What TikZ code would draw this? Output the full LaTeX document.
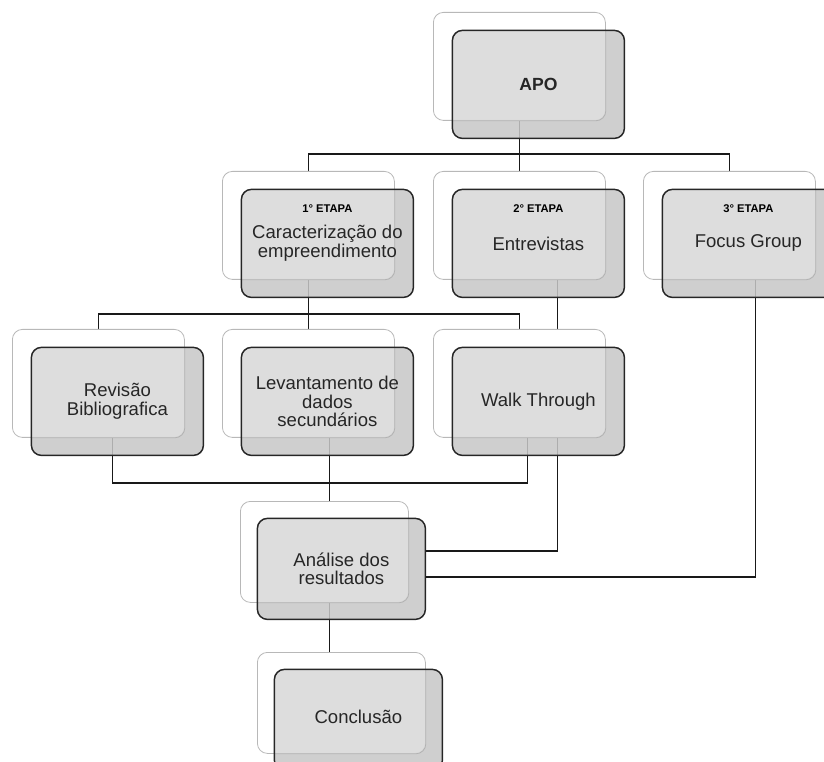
\documentclass[tikz,border=0pt]{standalone}
\usepackage{fontspec}
\setmainfont{Liberation Sans}
\usetikzlibrary{calc,backgrounds}

\begin{document}
\begin{tikzpicture}[x=0.75pt,y=0.75pt,yscale=-1,xscale=1,
  back/.style={draw=black!28, line width=0.6pt, fill=white, rounded corners=7.5pt, minimum width=129pt, minimum height=81pt, inner sep=0pt},
  backsm/.style={back, minimum width=126pt, minimum height=75.75pt},
  front/.style={draw=black!85, line width=1.1pt, fill=black!22, fill opacity=.85, text opacity=1, rounded corners=7.5pt, minimum width=129pt, minimum height=81pt, inner sep=0pt, align=center, text=black!85, font=\fontsize{13.9}{13.9}\selectfont,
    path picture={\path[fill=white, fill opacity=.3, draw=black!30, line width=0.6pt, rounded corners=7.5pt] (#1.south west) rectangle (#1.north east);}},
  frontsm/.style={front=#1, minimum width=126pt, minimum height=75.75pt},
  tag/.style={font=\bfseries\fontsize{8.4}{8.4}\selectfont, text=black},
  link/.style={draw=black!90, line width=1.2pt}]
\useasboundingbox (0,0) rectangle (824,762);

%Shape: APO
\node[back, anchor=north west] (apo) at (433,12) {};
\node[front=apo] (apo-f) at ($(apo)+(19,18)$) {\fontsize{13.2}{13.2}\selectfont\bfseries APO};

%Shape: 1a etapa
\node[back, anchor=north west] (car) at (222,171) {};
\node[front=car] (car-f) at ($(car)+(19,18)$) {Caracterização do\\empreendimento};
\node[tag] (tag-car) at ($(car)+(19,-17)$) {1° ETAPA};

%Shape: 2a etapa
\node[back, anchor=north west] (ent) at (433,171) {};
\node[front=ent] (ent-f) at ($(ent)+(19,18)$) {Entrevistas};
\node[tag] (tag-ent) at ($(ent)+(19,-17)$) {2° ETAPA};

%Shape: 3a etapa
\node[back, anchor=north west] (foc) at (643,171) {};
\node[front=foc] (foc-f) at ($(foc)+(19,18)$) {Focus Group};
\node[tag] (tag-foc) at ($(foc)+(19,-17)$) {3° ETAPA};

%Shape: Revisao
\node[back, anchor=north west] (rev) at (12,329) {};
\node[front=rev] (rev-f) at ($(rev)+(19,18)$) {Revisão\\Bibliografica};

%Shape: Levantamento
\node[back, anchor=north west] (lev) at (222,329) {};
\node[front=lev] (lev-f) at ($(lev)+(19,18)$) {Levantamento de\\dados\\secundários};

%Shape: Walk Through
\node[back, anchor=north west] (wal) at (433,329) {};
\node[front=wal] (wal-f) at ($(wal)+(19,18)$) {Walk Through};

%Shape: Analise
\node[backsm, anchor=north west] (ana) at (240,501) {};
\node[frontsm=ana] (ana-f) at ($(ana)+(17,17)$) {Análise dos\\resultados};

%Shape: Conclusao
\node[backsm, anchor=north west] (con) at (257,652) {};
\node[frontsm=con] (con-f) at ($(con)+(17,17)$) {\raisebox{4pt}{Conclusão}};

\begin{scope}[on background layer]
%Straight Lines: APO to etapas
\coordinate (bus-a) at ($(apo.south)+(0,33)$);
\draw[link] (apo.south) -- (bus-a);
\draw[link] (car.north) |- (bus-a) -| (foc.north);
\draw[link] (bus-a) -- (ent.north);
%Straight Lines: 1a etapa to its parts
\coordinate (bus-b) at ($(car.south)+(0,34)$);
\draw[link] (car.south) -- (bus-b);
\draw[link] (rev.north) |- (bus-b) -| (wal.north);
\draw[link] (bus-b) -- (lev.north);
%Straight Lines: into Analise
\coordinate (bus-c) at ($(ana.north)+(5,-18)$);
\draw[link] ($(rev.south)+(14,0)$) |- (bus-c) -| ($(wal.south)+(8,0)$);
\draw[link] (lev.south -| bus-c) -- (ana.north -| bus-c);
\draw[link] ($(ent.south)+(38,0)$) |- ($(ana-f.east)+(0,-18)$);
\draw[link] ($(foc.south)+(26,0)$) |- ($(ana-f.east)+(0,8)$);
%Straight Lines: Analise to Conclusao
\draw[link] (ana.south -| bus-c) -- (con.north -| bus-c);
\end{scope}

\end{tikzpicture}
\end{document}
